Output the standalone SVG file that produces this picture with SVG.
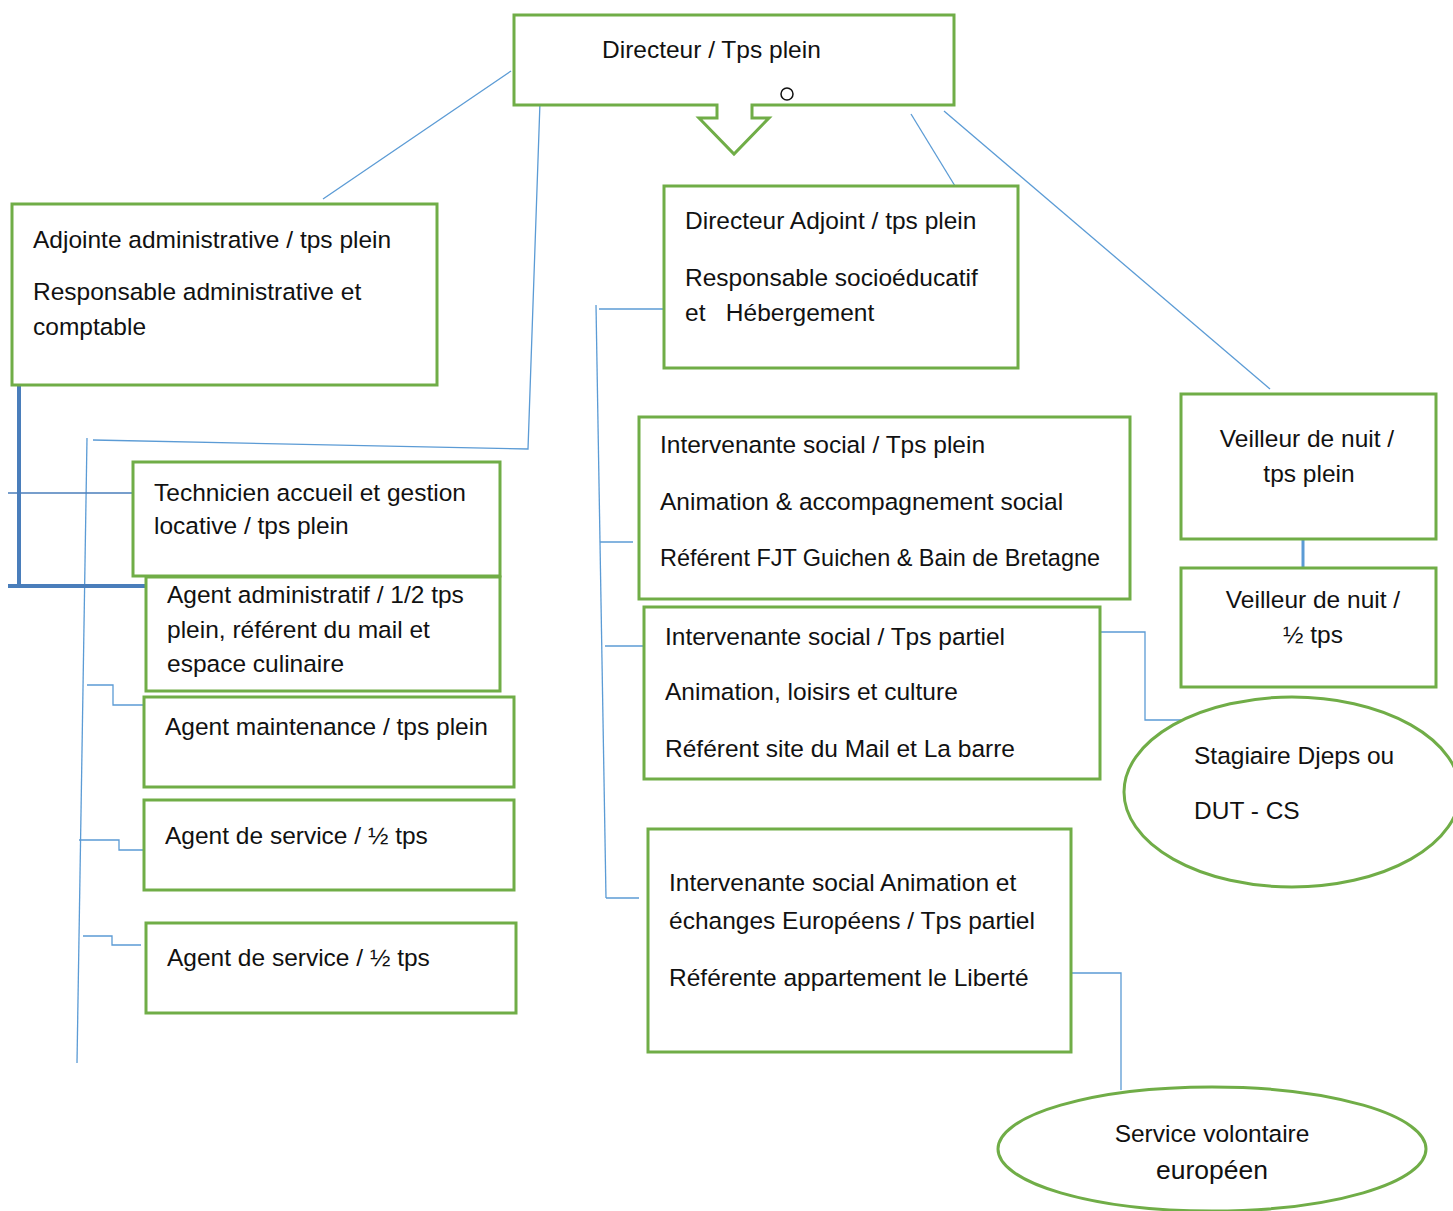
<svg xmlns="http://www.w3.org/2000/svg" width="1453" height="1211" viewBox="0 0 1453 1211">
<style>
.box{fill:#fff;stroke:#70AD47;stroke-width:3}
.ln{fill:none;stroke:#5B9BD5;stroke-width:1.3}
.thick{fill:none;stroke:#4A7EBB;stroke-width:4}
text{font-family:"Liberation Sans",Arial,sans-serif;font-size:24.5px;fill:#111}
.c{text-anchor:middle}
</style>
<rect width="1453" height="1211" fill="#fff"/>
<g id="connectors">
<line class="ln" x1="511" y1="71" x2="323" y2="199"/>
<polyline class="ln" points="540,102 528,449 93,440"/>
<line class="ln" x1="87" y1="438" x2="77" y2="1063"/>
<polyline class="thick" points="19,385 19,586"/>
<line class="thick" x1="8" y1="586" x2="146" y2="586"/>
<line x1="8" y1="493" x2="133" y2="493" stroke="#4A7EBB" stroke-width="1.5"/>
<polyline class="ln" points="87,685 113,685 113,705 144,705"/>
<polyline class="ln" points="79,840 119,840 119,850 144,850"/>
<polyline class="ln" points="83,936 112,936 112,945 141,945"/>
<line class="ln" x1="911" y1="114" x2="955" y2="186"/>
<line class="ln" x1="944" y1="111" x2="1270" y2="389"/>
<line class="ln" x1="596" y1="305" x2="606" y2="898"/>
<line class="ln" x1="599" y1="309" x2="664" y2="309"/>
<line class="ln" x1="600" y1="542" x2="633" y2="542"/>
<line class="ln" x1="605" y1="646" x2="644" y2="646"/>
<line class="ln" x1="606" y1="898" x2="639" y2="898"/>
<polyline class="ln" points="1101,632 1145,632 1145,720 1183,720"/>
<polyline class="ln" points="1069,973 1121,973 1121,1090"/>
<line x1="1303" y1="539" x2="1303" y2="568" stroke="#5B9BD5" stroke-width="3"/>
</g>
<g id="directeur">
<path class="box" d="M514,15 H954 V105 H752 V118 H769 L734,154 L699,118 H717 V105 H514 Z"/>
<text x="602" y="58">Directeur / Tps plein</text>
<circle cx="787" cy="94" r="6" fill="none" stroke="#111" stroke-width="1.5"/>
</g>
<g id="adjointe">
<rect class="box" x="12" y="204" width="425" height="181"/>
<text x="33" y="248">Adjointe administrative / tps plein</text>
<text x="33" y="300">Responsable administrative et</text>
<text x="33" y="335">comptable</text>
</g>
<g id="technicien">
<rect class="box" x="133" y="462" width="367" height="114"/>
<text x="154" y="501">Technicien accueil et gestion</text>
<text x="154" y="534">locative / tps plein</text>
</g>
<g id="agent-admin">
<rect class="box" x="146" y="577" width="354" height="114"/>
<text x="167" y="603">Agent administratif / 1/2 tps</text>
<text x="167" y="638">plein, référent du mail et</text>
<text x="167" y="672">espace culinaire</text>
</g>
<g id="agent-maintenance">
<rect class="box" x="144" y="697" width="370" height="90"/>
<text x="165" y="735">Agent maintenance / tps plein</text>
</g>
<g id="agent-service-1">
<rect class="box" x="144" y="800" width="370" height="90"/>
<text x="165" y="844">Agent de service / ½ tps</text>
</g>
<g id="agent-service-2">
<rect class="box" x="146" y="923" width="370" height="90"/>
<text x="167" y="966">Agent de service / ½ tps</text>
</g>
<g id="directeur-adjoint">
<rect class="box" x="664" y="186" width="354" height="182"/>
<text x="685" y="229">Directeur Adjoint / tps plein</text>
<text x="685" y="286">Responsable socioéducatif</text>
<text x="685" y="321" xml:space="preserve">et   Hébergement</text>
</g>
<g id="intervenante-1">
<rect class="box" x="639" y="417" width="491" height="182"/>
<text x="660" y="453">Intervenante social / Tps plein</text>
<text x="660" y="510">Animation &amp; accompagnement social</text>
<text x="660" y="566" textLength="440" lengthAdjust="spacingAndGlyphs">Référent FJT Guichen &amp; Bain de Bretagne</text>
</g>
<g id="intervenante-2">
<rect class="box" x="644" y="607" width="456" height="172"/>
<text x="665" y="645">Intervenante social / Tps partiel</text>
<text x="665" y="700">Animation, loisirs et culture</text>
<text x="665" y="757">Référent site du Mail et La barre</text>
</g>
<g id="intervenante-3">
<rect class="box" x="648" y="829" width="423" height="223"/>
<text x="669" y="891">Intervenante social Animation et</text>
<text x="669" y="929">échanges Européens / Tps partiel</text>
<text x="669" y="986">Référente appartement le Liberté</text>
</g>
<g id="veilleur-1">
<rect class="box" x="1181" y="394" width="255" height="145"/>
<text class="c" x="1307" y="447">Veilleur de nuit /</text>
<text class="c" x="1309" y="482">tps plein</text>
</g>
<g id="veilleur-2">
<rect class="box" x="1181" y="568" width="255" height="119"/>
<text class="c" x="1313" y="608">Veilleur de nuit /</text>
<text class="c" x="1313" y="643">½ tps</text>
</g>
<g id="stagiaire">
<ellipse class="box" cx="1292" cy="792" rx="168" ry="95"/>
<text x="1194" y="764">Stagiaire Djeps ou</text>
<text x="1194" y="819">DUT - CS</text>
</g>
<g id="sve">
<ellipse class="box" cx="1212" cy="1149" rx="214" ry="62"/>
<text class="c" x="1212" y="1142">Service volontaire</text>
<text class="c" x="1212" y="1179" style="font-size:26.5px">européen</text>
</g>
</svg>
